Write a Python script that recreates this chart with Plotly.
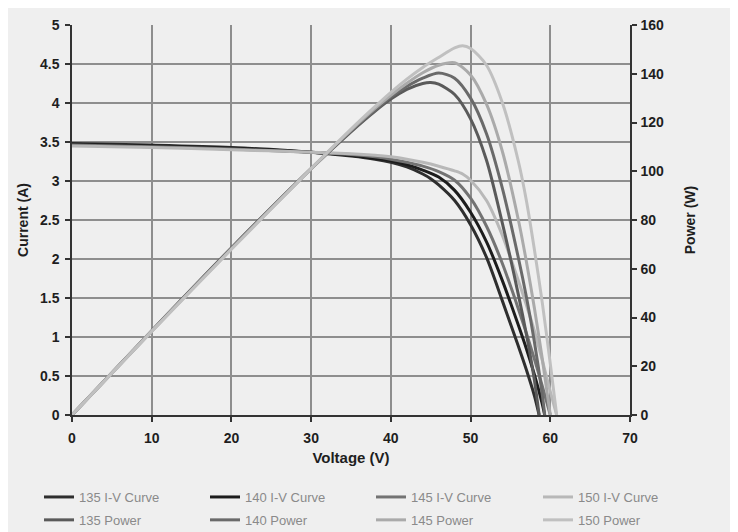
import plotly.graph_objects as go

# ---------------- data ----------------
V135 = [0, 10, 20, 30, 35, 38, 40, 42, 44, 45, 46, 48, 50, 52, 54, 56, 57, 58, 58.6]
I135 = [3.48, 3.46, 3.43, 3.37, 3.32, 3.28, 3.24, 3.18, 3.09, 3.03, 2.95, 2.75, 2.44, 2.02, 1.46, 0.88, 0.58, 0.25, 0]
P135 = [0, 34.6, 68.6, 101.1, 116.2, 124.6, 129.6, 133.6, 136.0, 136.4, 135.7, 131.5, 121.5, 104.5, 78.5, 49.3, 33.1, 14.5, 0]

V140 = [0, 10, 20, 30, 35, 38, 40, 42, 44, 46, 48, 50, 52, 54, 56, 57, 58, 59, 59.3]
I140 = [3.47, 3.45, 3.42, 3.37, 3.33, 3.29, 3.26, 3.21, 3.14, 3.05, 2.88, 2.60, 2.22, 1.72, 1.15, 0.85, 0.52, 0.14, 0]
P140 = [0, 34.5, 68.4, 101.1, 116.6, 125.0, 130.4, 134.8, 138.2, 140.3, 138.2, 130.0, 115.4, 92.9, 64.4, 48.5, 30.2, 8.3, 0]

V145 = [0, 10, 20, 30, 35, 38, 40, 42, 44, 46, 48, 50, 52, 54, 56, 57, 58, 59, 60]
I145 = [3.46, 3.44, 3.41, 3.37, 3.34, 3.31, 3.28, 3.24, 3.19, 3.12, 3.01, 2.78, 2.42, 1.94, 1.36, 1.05, 0.72, 0.37, 0]
P145 = [0, 34.4, 68.2, 101.1, 116.9, 125.8, 131.2, 136.1, 140.4, 143.5, 144.5, 139.5, 127.5, 108.0, 80.0, 63.0, 44.0, 23.0, 0]

V150 = [0, 10, 20, 30, 35, 38, 40, 42, 44, 46, 48, 49, 50, 52, 54, 56, 57, 58, 59, 60, 60.8]
I150 = [3.45, 3.43, 3.40, 3.37, 3.35, 3.33, 3.31, 3.28, 3.24, 3.19, 3.13, 3.09, 3.01, 2.75, 2.30, 1.72, 1.41, 1.08, 0.70, 0.30, 0]
P150 = [0, 34.3, 68.0, 101.1, 117.3, 126.5, 132.4, 137.8, 142.6, 146.7, 150.6, 151.5, 150.4, 143.5, 128.0, 104.0, 88.0, 68.0, 46.0, 21.0, 0]

IV_NAMES = ["135 I-V Curve", "140 I-V Curve", "145 I-V Curve", "150 I-V Curve"]
P_NAMES = ["135 Power", "140 Power", "145 Power", "150 Power"]
X_TICKS = [0, 10, 20, 30, 40, 50, 60, 70]
Y_TICKS = [0, 0.5, 1, 1.5, 2, 2.5, 3, 3.5, 4, 4.5, 5]
Y2_TICKS = [0, 20, 40, 60, 80, 100, 120, 140, 160]

# ---------------- styling ----------------
IV_COLORS = ["#2e2e2e", "#1c1c1c", "#737373", "#b8b8b8"]
P_COLORS = ["#5a5a5a", "#6a6a6a", "#aaaaaa", "#c0c0c0"]
FONT = "Liberation Sans, Arial, sans-serif"
LEGENDS = ["legend", "legend2", "legend3", "legend4"]
LEGEND_X = [-0.0591, 0.2384, 0.5358, 0.8351]

fig = go.Figure()
for k, (name, v, i, c) in enumerate(zip(IV_NAMES, [V135, V140, V145, V150], [I135, I140, I145, I150], IV_COLORS)):
    fig.add_trace(go.Scatter(x=v, y=i, name=name, mode="lines",
                             line=dict(color=c, width=3, shape="spline", smoothing=0.8),
                             yaxis="y", legend=LEGENDS[k], legendgroup="iv%d" % k))
for k, (name, v, p, c) in enumerate(zip(P_NAMES, [V135, V140, V145, V150], [P135, P140, P145, P150], P_COLORS)):
    fig.add_trace(go.Scatter(x=v, y=p, name=name, mode="lines",
                             line=dict(color=c, width=3, shape="spline", smoothing=0.8),
                             yaxis="y2", legend=LEGENDS[k], legendgroup="p%d" % k))

tick_font = dict(family=FONT, size=14, color="#1e1e1e", weight="bold")
title_font = dict(family=FONT, size=14, color="#1e1e1e", weight="bold")
axis_common = dict(showline=True, linecolor="#333333", linewidth=1.5,
                   ticks="outside", ticklen=5, tickcolor="#333333", tickwidth=1.5,
                   zeroline=False, automargin=False, tickfont=tick_font)

legend_common = dict(orientation="v", xanchor="left", yanchor="top", y=-0.1718, itemwidth=30,
                     tracegroupgap=3, traceorder="grouped",
                     font=dict(family=FONT, size=13, color="#8a8a8a"),
                     bgcolor="rgba(0,0,0,0)")

layout_legends = {LEGENDS[k]: dict(legend_common, x=LEGEND_X[k]) for k in range(4)}

fig.update_layout(
    width=738, height=540, autosize=False,
    margin=dict(l=64, r=116, t=17, b=133),
    paper_bgcolor="#efefef", plot_bgcolor="#efefef",
    xaxis=dict(range=[0, 70], tickvals=X_TICKS, showgrid=True, gridcolor="#8e8e8e", gridwidth=1.5,
               ticklabelstandoff=4,
               title=dict(text="Voltage (V)", standoff=8, font=dict(title_font, size=15)),
               **axis_common),
    yaxis=dict(range=[0, 5], tickvals=Y_TICKS, showgrid=True, gridcolor="#8e8e8e", gridwidth=1.5,
               ticklabelstandoff=3,
               title=dict(text="Current (A)", standoff=8, font=title_font),
               **axis_common),
    yaxis2=dict(range=[0, 160], tickvals=Y2_TICKS, overlaying="y", side="right", showgrid=False,
                ticklabelstandoff=1,
                title=dict(text="Power (W)", standoff=22, font=title_font),
                **axis_common),
    showlegend=True,
    **layout_legends,
)

fig.write_html("out.html")
